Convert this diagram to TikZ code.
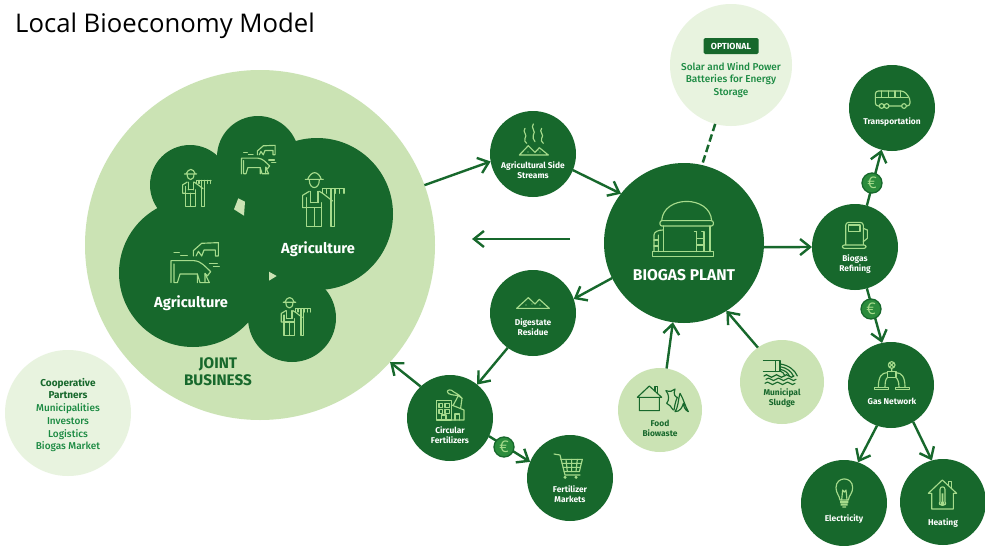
\documentclass[tikz,border=0pt]{standalone}
\usepackage{fontspec}
\setmainfont{Open Sans}
\newfontfamily\labelfont{Fira Sans}
\newfontfamily\medfont{Fira Sans Medium}
\usetikzlibrary{arrows.meta}
\definecolor{dk}{HTML}{17682C}
\definecolor{lt}{HTML}{CBE3B4}
\definecolor{vlt}{HTML}{E8F3DF}
\definecolor{ico}{HTML}{A6DB8C}
\definecolor{midg}{HTML}{1B8A42}
\definecolor{eur}{HTML}{2B8C3C}
\newcommand{\farmerico}[3]{\begin{scope}[shift={(#1,#2)},scale=#3/3]\begin{scope}[shift={(-702,-332)},icoline]
\draw (648,270)--(702,270) (655,270)..controls (660,258) and (668,250) ..(676,250)..controls (684,250) and (692,258) ..(696,270);
\draw (660,272)..controls (660,302) and (690,302) ..(690,272);
\draw (640,355)--(640,318)--(660,306) (690,306)--(700,312)--(730,335) (652,355)--(640,355);
\draw (652,325)--(652,412)--(697,412)--(697,340) (675,355)--(675,412) (652,355)--(697,355) (664,306)--(664,340) (686,306)--(686,340) (664,340)--(686,340);
\draw (725,300)--(725,412)--(735,412)--(735,300);
\draw (700,312)--(700,298)--(765,298) (712,298)--(712,312) (725,298)--(725,312) (738,298)--(738,312) (751,298)--(751,312) (764,298)--(764,312);
\end{scope}\end{scope}}
\newcommand{\cowico}[3]{\begin{scope}[shift={(#1,#2)},scale=#3/3]\begin{scope}[shift={(-314,-517)},icoline]
\draw (243,578)--(243,512)--(312,512)..controls (335,514) and (345,530) ..(362,545)--(352,558)--(345,550)--(345,578)--(330,578)--(322,552)--(322,578);
\draw (322,552)--(270,552)--(262,578)--(252,578)--(252,522);
\draw (345,578)--(358,578)--(345,552);
\draw (310,498)--(310,482)--(335,460)--(385,458)--(385,498)--(376,498)--(376,480)--(342,480)--(335,498)--(325,484)--(318,498);
\draw (252,488)--(268,488) (272,497)--(292,497) (358,520)--(382,520) (370,530)--(388,530);
\end{scope}\end{scope}}
\tikzset{
 x=1pt,y=-1pt,
 icoline/.style={draw=ico,line width=1.15pt,line join=round,line cap=round},
 darkline/.style={draw=dk,line width=1.15pt,line join=round,line cap=round},
 hub/.style={circle,fill=dk,inner sep=0pt,outer sep=0pt,minimum size=86pt},
 lighthub/.style={circle,fill=lt,inner sep=0pt,outer sep=0pt,minimum size=84pt},
 blob/.style={circle,fill=dk,inner sep=0pt,outer sep=0pt},
 euro/.style={circle,fill=eur,draw=dk,line width=1.3pt,inner sep=0pt,outer sep=0pt,minimum size=20pt,text=ico,font=\fontsize{16}{16}\selectfont},
 flow/.style={draw=dk,line width=2.4pt,-{Straight Barb[length=10pt,width=16pt,line width=2.4pt]}},
 whitetxt/.style={text=white,inner sep=0pt,align=center,font=\labelfont\fontsize{8.4}{10}\selectfont\bfseries},
 darktxt/.style={text=dk,inner sep=0pt,align=center,font=\labelfont\fontsize{8.4}{10}\selectfont\bfseries},
 bigtxt/.style={text=white,inner sep=0pt,font=\labelfont\fontsize{14.6}{16}\selectfont\bfseries},
 midtxt/.style={text=midg,inner sep=0pt,align=center,font=\medfont\fontsize{10}{12.7}\selectfont},
}
\begin{document}
\begin{tikzpicture}
\useasboundingbox (0,0) rectangle (985,546);
\fill[white] (0,0) rectangle (985,546);
\node[inner sep=0pt,anchor=west,font=\fontsize{25.7}{30}\selectfont] (title) at (15,26) {Local Bioeconomy Model};
% large circles
\node[circle,fill=lt,inner sep=0pt,outer sep=0pt,minimum size=350pt] (joint) at (260,245) {};
\node[circle,fill=vlt,inner sep=0pt,outer sep=0pt,minimum size=126pt] (coop) at (68,413) {};
\node[circle,fill=vlt,inner sep=0pt,outer sep=0pt,minimum size=122pt] (opt) at (731,65) {};
% blobs
\node[blob,minimum size=80pt] (b1) at (190,185) {};
\node[blob,minimum size=82pt] (b2) at (258,157) {};
\node[blob,minimum size=152pt] (b3) at (317,214) {};
\node[blob,minimum size=148pt] (b4) at (193,273) {};
\node[blob,minimum size=88pt] (b5) at (292,318) {};
\fill[dk] (b1.center)--(b2.center)--(b3.center)--(b5.center)--(b4.center)--cycle;
\fill[lt] (238.3,198.3)--(245,201.7)--(244,215.7)--(234,209.3)--cycle;
\fill[lt] (269,271.7)--(276.7,276)--(269,280.7)--cycle;
% hubs
\node[hub] (agri) at (533,154) {};
\node[hub] (dig) at (533,313) {};
\node[hub,minimum size=160pt] (plant) at (684,243) {};
\node[hub] (trans) at (892,108) {};
\node[hub] (refine) at (855,247) {};
\node[hub] (gas) at (891,385) {};
\node[hub] (elec) at (844,503) {};
\node[hub] (heat) at (943,502) {};
\node[hub] (circ) at (450,418) {};
\node[hub] (mark) at (570,478) {};
\node[lighthub] (muni) at (782,382) {};
\node[lighthub] (food) at (660,410) {};
\coordinate (backstart) at (570,239);
\coordinate (backend) at (472,239);
% connectors
\draw[flow] (joint.20) -- (agri.190);
\draw[flow] (agri.-22) -- (plant.142);
\draw[flow] (backstart) -- (backend);
\draw[flow] (plant.206) -- (dig.19);
\draw[flow] (dig.234) -- (circ.51);
\draw[flow] (circ.133) -- (joint.-42);
\draw[flow] (circ.-25) -- (mark.158);
\draw[flow] (food.81) -- (plant.262);
\draw[flow] (muni.125) -- (plant.302);
\draw[flow] (plant.-3) -- (refine.180);
\draw[flow] (refine.74) -- (trans.256);
\draw[flow] (refine.286) -- (gas.102);
\draw[flow] (gas.251) -- (elec.71);
\draw[flow] (gas.301) -- (heat.105);
\draw[draw=dk,line width=2.5pt,dash pattern=on 7.5pt off 3.5pt] (opt.255) -- (plant.77);
\node[euro] (e1) at (872,183) {€};
\node[euro] (e2) at (871,309) {€};
\node[euro] (e3) at (504,447) {€};
% icons: farmers and cows
\farmerico{323.3}{200}{1}
\farmerico{196.7}{188}{.68}
\farmerico{295.7}{316.7}{.7}
\cowico{194.7}{262.3}{1}
\cowico{258.3}{159.3}{.71}
% biogas icon
\begin{scope}[shift={(480,0)},scale=1/3,icoline]
\draw (545,662)..controls (550,585) and (690,585) ..(695,662);
\draw[rounded corners=2pt] (540,662) rectangle (700,678);
\draw (550,678)--(550,755) (690,678)--(690,755);
\draw (517,755) rectangle (700,770);
\draw (650,695)--(650,755) (672,695)--(672,755) (650,715)--(672,715) (650,735)--(672,735) (643,695)--(650,695) (665,695)--(672,695);
\draw (522,755)--(522,705)..controls (522,695) and (535,690) ..(550,690) (535,755)--(535,705);
\draw (522,720)--(535,720) (522,738)--(535,738);
% agri side
\draw (135,385)..controls (125,395) and (145,405) ..(135,415)..controls (130,422) and (137,425) ..(140,430);
\draw (160,372)..controls (150,382) and (170,395) ..(160,405)..controls (155,412) and (162,418) ..(165,425);
\draw (185,385)..controls (175,395) and (195,405) ..(185,415)..controls (180,422) and (187,425) ..(190,430);
\draw (118,465)--(145,437)--(165,457)--(178,443)--(205,465)--cycle;
% digestate
\draw (110,925)--(145,893)--(165,912)--(178,898)--(208,925)--cycle;
\end{scope}
\fill[ico] (528,152) circle (.6pt) (538,150) circle (.6pt) (540,152) circle (.6pt);
\fill[ico] (526,305) circle (.6pt) (532,304) circle (.6pt) (540,305) circle (.6pt);
% transport, refining
\begin{scope}[shift={(780,60)},scale=1/3,icoline]
\draw[rounded corners=3pt] (286,93)--(372,93)--(390,115)--(390,138)--(286,138)--cycle;
\draw (286,112)--(384,112) (305,93)--(305,112) (325,93)--(325,112) (345,93)--(345,112) (362,93)--(362,112);
\filldraw[fill=dk] (305,138) circle (7) (320,138) circle (7) (372,138) circle (7);
\draw[rounded corners=3pt] (197,560)--(197,487)--(250,487)--(250,560);
\draw (205,495) rectangle (240,515);
\filldraw[fill=dk,rounded corners=2pt] (187,555) rectangle (258,565);
\draw (250,505)--(262,510)--(262,535)--(250,545);
\end{scope}
% gas, electricity, heating
\begin{scope}[shift={(780,330)},scale=1/3,icoline]
\draw (335,105) circle (10) (329,99)--(341,111) (341,99)--(329,111) (335,115)--(335,125);
\draw (322,125) rectangle (348,143);
\draw (322,128)..controls (305,128) and (295,140) ..(295,172) (315,172)..controls (315,155) and (318,145) ..(322,143);
\draw (348,128)..controls (365,128) and (375,140) ..(375,172) (357,172)..controls (357,155) and (352,145) ..(348,143);
\draw (283,172) rectangle (325,178) (347,172) rectangle (388,178);
\draw (180,510)..controls (178,495) and (168,490) ..(168,473)..controls (168,438) and (218,438) ..(218,473)..controls (218,490) and (207,495) ..(205,510)--cycle;
\draw (185,510)--(188,480)--(193,486)--(198,480)--(201,510);
\fill[ico] (180,513) rectangle (205,519) (182,521) rectangle (203,527) (187,529) rectangle (198,533);
\draw (445,490)--(487,450)--(530,490)--(520,490)--(520,537)--(455,537)--(455,490)--cycle;
\draw (505,465)--(505,455)--(515,455)--(515,474);
\draw (480,515)--(480,478)..controls (480,468) and (495,468) ..(495,478)--(495,515)..controls (505,530) and (470,530) ..(480,515);
\fill[ico] (487.5,520) circle (6) (485,490) rectangle (490,515);
\end{scope}
% circular fertilizers, markets
\begin{scope}[shift={(390,330)},scale=1/3,icoline]
\draw (140,270) rectangle (185,212);
\draw (147,220) rectangle (158,232) (165,220) rectangle (178,232) (147,238) rectangle (158,250) (165,238) rectangle (178,250);
\draw (155,270)--(155,255)--(168,255)--(168,270);
\draw (185,225)--(222,240)--(222,270)--(185,270);
\draw (195,270)--(195,252)--(208,252)--(208,270);
\draw (190,225)--(205,197) (212,234)--(216,205)--(205,197);
\draw (205,197)..controls (195,195) and (172,195) ..(172,185)..controls (172,178) and (185,178) ..(190,185)..controls (195,190) and (205,190) ..(216,205);
\draw (492,372)--(510,375)--(525,435)--(570,435);
\draw (512,388)--(577,388)--(568,425)--(522,425);
\draw (516,400)--(574,400) (519,412)--(571,412) (528,388)--(532,425) (545,388)--(545,425) (562,388)--(558,425);
\fill[ico] (525,442) circle (5) (558,442) circle (5);
\end{scope}
% food, municipal
\begin{scope}[shift={(610,320)},scale=1/3,darkline]
\draw (82,232)--(118,198)--(155,232)--(82,232) (88,232)--(88,272)--(148,272)--(148,232);
\draw (135,212)--(135,200)--(143,200)--(143,220);
\draw (168,212)..controls (180,216) and (188,214) ..(195,207) (195,207)..controls (188,225) and (198,232) ..(202,232)..controls (196,245) and (194,258) ..(192,270);
\draw (168,212)..controls (178,225) and (178,240) ..(170,250)..controls (180,252) and (182,262) ..(190,270);
\draw (210,220)..controls (203,245) and (205,262) ..(195,275)..controls (210,275) and (217,262) ..(220,250)..controls (222,262) and (225,270) ..(235,275)..controls (225,258) and (222,240) ..(210,220);
\draw (460,122)--(510,122)--(510,155)--(460,155) (497,122)--(497,155);
\draw (510,132)..controls (535,135) and (555,150) ..(562,168) (510,140)..controls (530,143) and (545,155) ..(550,168) (510,148)..controls (522,150) and (535,158) ..(538,168);
\draw (510,153)..controls (517,155) and (522,160) ..(525,168);
\foreach \yy/\aa/\bb in {168/462/572,178/468/566,190/465/560}{
 \draw (\aa,\yy)..controls (\aa+5,\yy-5) and (\aa+10,\yy-5) ..(\aa+15,\yy)..controls (\aa+20,\yy+5) and (\aa+25,\yy+5) ..(\aa+30,\yy)..controls (\aa+35,\yy-5) and (\aa+40,\yy-5) ..(\aa+45,\yy)..controls (\aa+50,\yy+5) and (\aa+55,\yy+5) ..(\aa+60,\yy)..controls (\aa+65,\yy-5) and (\aa+70,\yy-5) ..(\aa+75,\yy)..controls (\aa+80,\yy+5) and (\aa+85,\yy+5) ..(\aa+90,\yy);
}
\end{scope}
% labels
\node[bigtxt] (l1) at (318,249) {Agriculture};
\node[bigtxt] (l2) at (191,303) {Agriculture};
\node[text=dk,inner sep=0pt,align=center,font=\labelfont\fontsize{15.3}{17.3}\selectfont\bfseries] (l3) at (218,372) {JOINT\\BUSINESS};
\node[bigtxt,font=\labelfont\fontsize{15.6}{16}\selectfont\bfseries] (l4) at (684,275) {BIOGAS PLANT};
\node[whitetxt] (l5) at (533,170.5) {Agricultural Side\\Streams};
\node[whitetxt] (l6) at (533,327.5) {Digestate\\Residue};
\node[whitetxt] (l7) at (892,122.5) {Transportation};
\node[whitetxt] (l8) at (855,264.5) {Biogas\\Refining};
\node[whitetxt] (l9) at (892,401.5) {Gas Network};
\node[whitetxt] (l10) at (844,519.5) {Electricity};
\node[whitetxt] (l11) at (943,523.5) {Heating};
\node[whitetxt] (l12) at (450,435.5) {Circular\\Fertilizers};
\node[whitetxt] (l13) at (570,494.5) {Fertilizer\\Markets};
\node[darktxt] (l14) at (782,398.5) {Municipal\\Sludge};
\node[darktxt] (l15) at (660,428.5) {Food\\Biowaste};
\node[fill=dk,rounded corners=1.5pt,minimum width=55pt,minimum height=16pt,inner sep=0pt,text=white,font=\labelfont\fontsize{8.8}{10}\selectfont\bfseries] (l16) at (731,46) {OPTIONAL};
\node[midtxt] (l17) at (731,80) {Solar and Wind Power\\Batteries for Energy\\Storage};
\node[midtxt] (l18) at (68,415) {{\labelfont\bfseries\color{dk}Cooperative}\\{\labelfont\bfseries\color{dk}Partners}\\Municipalities\\Investors\\Logistics\\Biogas Market};
\end{tikzpicture}
\end{document}
